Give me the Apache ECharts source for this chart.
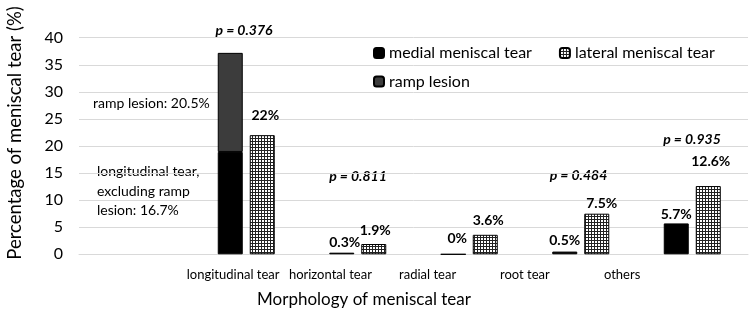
<!DOCTYPE html>
<html>
<head>
<meta charset="utf-8">
<script src="https://cdn.jsdelivr.net/npm/echarts@6/dist/echarts.min.js"></script>
<style>html,body{margin:0;padding:0;background:#fff;}#c{width:750px;height:317px;}</style>
</head>
<body>
<div id="c"></div>
<script>
// ---- data ----
const categories = ['', 'longitudinal tear', 'horizontal tear', 'radial tear', 'root tear', 'others'];
const categoryLabels = ['longitudinal tear', 'horizontal tear', 'radial tear', 'root tear', 'others'];
const medialValues = [null, 18.9, 0.3, 0, 0.5, 5.7];
const lateralValues = [null, 22.0, 1.9, 3.6, 7.5, 12.6];
const rampValues = [null, 18.3, null, null, null, null];
const medialLabels = [null, null, '0.3%', '0%', '0.5%', '5.7%'];
const lateralLabels = [null, '22%', '1.9%', '3.6%', '7.5%', '12.6%'];
const pValues = ['p = 0.376', 'p = 0.811', 'p = 0.484', 'p = 0.935'];
const yTicks = [0, 5, 10, 15, 20, 25, 30, 35, 40];
const seriesNames = ['medial meniscal tear', 'lateral meniscal tear', 'ramp lesion'];

// ---- styles ----
const FONT = 'Lato';
const medialOffsets = [null, null, [3, -3.5], [4, -8], [0, -4], [0, -2]];
const lateralOffsets = [null, [3, -12.5], [1.5, -6.5], [3, -7.3], [5, -3.5], [2.5, -17.6]];

const tile = document.createElement('canvas');
tile.width = 3; tile.height = 3;
const tctx = tile.getContext('2d');
tctx.fillStyle = '#ffffff'; tctx.fillRect(0, 0, 3, 3);
tctx.fillStyle = '#222222'; tctx.fillRect(0, 0, 3, 1); tctx.fillRect(0, 0, 1, 3);

function withLabels(values, labels, offsets) {
  return values.map((v, i) => {
    if (v === null) return null;
    if (!labels[i]) return v;
    return {
      value: v,
      label: {
        show: true, position: 'top', distance: 0, offset: offsets[i],
        formatter: labels[i], fontFamily: FONT, fontSize: 14, fontWeight: 'bold', color: '#000'
      }
    };
  });
}

const chart = echarts.init(document.getElementById('c'), null, {renderer: 'canvas'});
const dataLabelStyle = {fontFamily: FONT, fontSize: 14, fontWeight: 'bold', fontStyle: 'italic', fill: '#000', align: 'center', verticalAlign: 'middle'};
const pPos = [[244, 30.7], [358, 176.7], [578.5, 175.7], [692, 139.3]];

chart.setOption({
  animation: false,
  backgroundColor: '#fff',
  textStyle: {fontFamily: FONT, color: '#000'},
  grid: [
    {left: 79, right: 2, top: 37.7, bottom: 62.7, containLabel: false},
    {left: 184.5, width: 486.25, top: 37.7, bottom: 62.7, containLabel: false}
  ],
  legend: [
    {data: [seriesNames[0], seriesNames[1]], left: 373, top: 45, padding: 0, itemWidth: 10, itemHeight: 10, itemGap: 27,
     textStyle: {fontFamily: FONT, fontSize: 16, color: '#000'}},
    {data: [seriesNames[2]], left: 373, top: 73.5, padding: 0, itemWidth: 10, itemHeight: 10,
     textStyle: {fontFamily: FONT, fontSize: 16, color: '#000'}}
  ],
  xAxis: [
    {type: 'category', gridIndex: 0, data: categories,
     axisLine: {lineStyle: {color: '#d9d9d9', width: 1}}, axisTick: {show: false}, axisLabel: {show: false}},
    {type: 'category', gridIndex: 1, data: categoryLabels,
     axisLine: {show: false}, axisTick: {show: false},
     axisLabel: {margin: 14, fontFamily: FONT, fontSize: 13, color: '#000', interval: 0}}
  ],
  yAxis: [
    {type: 'value', gridIndex: 0, min: yTicks[0], max: yTicks[yTicks.length - 1], interval: 5,
     axisLine: {show: false}, axisTick: {show: false},
     axisLabel: {margin: 16, fontFamily: FONT, fontSize: 16, color: '#000'},
     splitLine: {lineStyle: {color: '#d9d9d9', width: 1}}},
    {type: 'value', gridIndex: 1, min: 0, max: 40, show: false}
  ],
  series: [
    {name: seriesNames[0], type: 'bar', xAxisIndex: 0, yAxisIndex: 0, stack: 'a', barWidth: 25, barGap: '28%',
     itemStyle: {color: '#000', borderColor: '#000', borderWidth: 1},
     data: withLabels(medialValues, medialLabels, medialOffsets)},
    {name: seriesNames[1], type: 'bar', xAxisIndex: 0, yAxisIndex: 0, stack: 'b', barWidth: 25, barGap: '28%',
     itemStyle: {color: {image: tile, repeat: 'repeat'}, borderColor: '#000', borderWidth: 1},
     data: withLabels(lateralValues, lateralLabels, lateralOffsets)},
    {name: seriesNames[2], type: 'bar', xAxisIndex: 0, yAxisIndex: 0, stack: 'a', barWidth: 25, barGap: '28%',
     itemStyle: {color: '#3c3c3c', borderColor: '#000', borderWidth: 1},
     data: rampValues}
  ],
  graphic: [
    ...pValues.map((t, i) => ({type: 'text', x: pPos[i][0], y: pPos[i][1], style: Object.assign({text: t}, dataLabelStyle)})),
    {type: 'text', x: 93, y: 103, style: {text: 'ramp lesion: 20.5%', fontFamily: FONT, fontSize: 14, fill: '#000', align: 'left', verticalAlign: 'middle'}},
    {type: 'text', x: 97, y: 162, style: {text: 'longitudinal tear,\nexcluding ramp\nlesion: 16.7%', fontFamily: FONT, fontSize: 14, lineHeight: 19.5, fill: '#000', align: 'left', verticalAlign: 'top'}},
    {type: 'text', x: 364, y: 300, style: {text: 'Morphology of meniscal tear', fontFamily: FONT, fontSize: 17, fill: '#000', align: 'center', verticalAlign: 'middle'}},
    {type: 'text', x: 15, y: 133, rotation: Math.PI / 2, style: {text: 'Percentage of meniscal tear (%)', fontFamily: FONT, fontSize: 18.5, fill: '#000', align: 'center', verticalAlign: 'middle'}}
  ]
});
</script>
</body>
</html>
